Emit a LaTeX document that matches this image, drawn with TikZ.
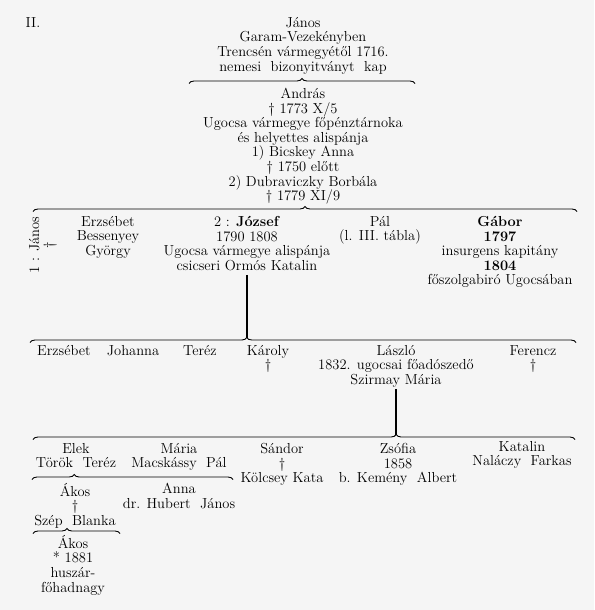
\documentclass[tikz,border=0pt]{standalone}
\usetikzlibrary{decorations.pathreplacing}

\begin{document}
\begin{tikzpicture}[x=1pt,y=-1pt,font=\fontsize{14.5}{14.6}\selectfont,
  gen/.style={align=center,inner sep=0pt,anchor=north,execute at begin node=\strut},
  kin/.style={decorate,decoration={brace,amplitude=5pt,aspect=#1},line width=0.9pt},
  stem/.style={line width=1.4pt}]
  \fill[white!96!black] (0,0) rectangle (594,610);
  \node[gen] (ii) at (33,17) {II.};
  \node[gen] (janos) at (303,17) {János\\Garam-Vezekényben\\Trencsén vármegyétől 1716.\\nemesi\ \ bizonyitványt\ \ kap};
  \draw[kin=.5] (189,83.5) coordinate (b1l) -- (415,83.5) coordinate (b1r);
  \node[gen] (andras) at (303,88) {András\\\dag\ 1773\ X/5\\Ugocsa vármegye főpénztárnoka\\és helyettes alispánja\\1) Bicskey Anna\\\dag\ 1750 előtt\\2) Dubraviczky Borbála\\\dag\ 1779\ XI/9};
  \draw[kin=.5] (33,211.5) coordinate (b2l) -- (577,211.5) coordinate (b2r);
  % children of András
  \node[align=center,inner sep=0pt,rotate=90] (janos1) at (43,245) {1 : János\\\dag};
  \node[gen] (erzs1) at (108,216) {Erzsébet\\Bessenyey\\György};
  \node[gen] (jozsef) at (247,216) {2 : \textbf{József}\\1790 1808\\Ugocsa vármegye alispánja\\csicseri Ormós Katalin};
  \node[gen] (pal) at (380,216) {Pál\\(l. III. tábla)};
  \node[gen] (gabor) at (500,216) {\textbf{Gábor}\\\textbf{1797}\\insurgens kapitány\\\textbf{1804}\\főszolgabiró Ugocsában};
  \draw[kin=.397] (30,342.5) coordinate (b3l) -- (576,342.5) coordinate (b3r);
  \coordinate (t3) at (247,337.5);
  \draw[stem] (jozsef.south) -- (t3);
  % children of József
  \node[gen] (erzs2) at (64,345) {Erzsébet};
  \node[gen] (johanna) at (133,345) {Johanna};
  \node[gen] (terez) at (200,345) {Teréz};
  \node[gen] (karoly) at (268,345) {Károly\\\dag};
  \node[gen] (laszlo) at (396,345) {László\\1832. ugocsai főadószedő\\Szirmay Mária};
  \node[gen] (ferencz) at (533,345) {Ferencz\\\dag};
  \draw[kin=.67] (33,439.5) coordinate (b4l) -- (575,439.5) coordinate (b4r);
  \coordinate (t4) at (396,434.5);
  \draw[stem] (laszlo.south) -- (t4);
  % children of László
  \node[gen] (elek) at (76,443) {Elek\\Török\ \ Teréz};
  \node[gen] (maria) at (179,443) {Mária\\Macskássy\ \ Pál};
  \node[gen] (sandor) at (282,443) {Sándor\\\dag\\Kölcsey Kata};
  \node[gen] (zsofia) at (398,443) {Zsófia\\1858\\b. Kemény\ \ Albert};
  \node[gen] (katalin) at (522,441) {Katalin\\Naláczy\ \ Farkas};
  \draw[kin=.21] (32,479.5) coordinate (b5l) -- (233,479.5) coordinate (b5r);
  \node[gen] (akos1) at (75,483) {Ákos\\\dag\\Szép\ \ Blanka};
  \node[gen] (anna) at (179,483) {Anna\\dr. Hubert\ \ János};
  \draw[kin=.39] (33,533.5) coordinate (b6l) -- (120,533.5) coordinate (b6r);
  \node[gen] (akos2) at (73,535) {Ákos\\* 1881\\huszár-\\főhadnagy};
\end{tikzpicture}
\end{document}
